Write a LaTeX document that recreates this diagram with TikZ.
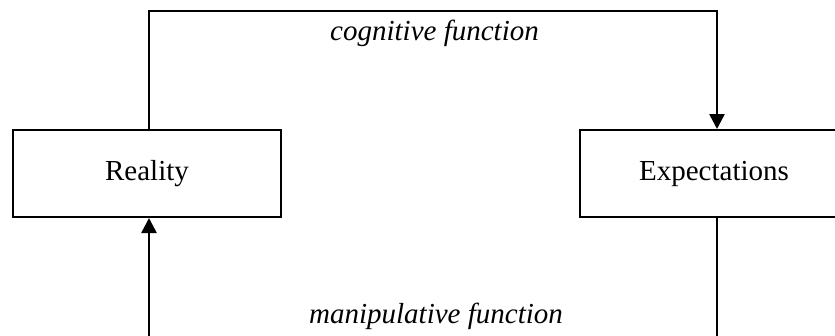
\documentclass[tikz,border=0pt]{standalone}
\usepackage{fontspec}
\setmainfont{Liberation Serif}
\usetikzlibrary{arrows.meta}
\begin{document}
\begin{tikzpicture}[x=1pt,y=-1pt,
  box/.style={draw,line width=2pt,rectangle,minimum width=268pt,minimum height=87pt,inner sep=0pt,font=\fontsize{29}{35}\selectfont},
  conn/.style={line width=2.6pt,line join=miter},
  arr/.style={conn,-{Triangle[width=15pt,length=15pt]}},
  lbl/.style={font=\fontsize{29}{35}\selectfont\itshape,inner sep=0pt,anchor=base}]
\useasboundingbox (0,0) rectangle (835,335);
\clip (0,0) rectangle (835,335);
\fill[white] (0,0) rectangle (835,335);
\node[box] (R) at (147,173.5) {Reality};
\node[box] (E) at (714,173.5) {Expectations};
\coordinate (tl) at (149,11);
\coordinate (tr) at (717,11);
\coordinate (bl) at (149,340);
\coordinate (br) at (717,340);
\draw[arr] (R.north -| tl) -- (tl) -- (tr) -- (E.north -| tr);
\draw[conn] (E.south -| br) -- (br);
\draw[arr] (bl) -- (R.south -| bl);
\node[lbl] (cog) at (434.5,40) {cognitive function};
\node[lbl] (man) at (436,323) {manipulative function};
\end{tikzpicture}
\end{document}
